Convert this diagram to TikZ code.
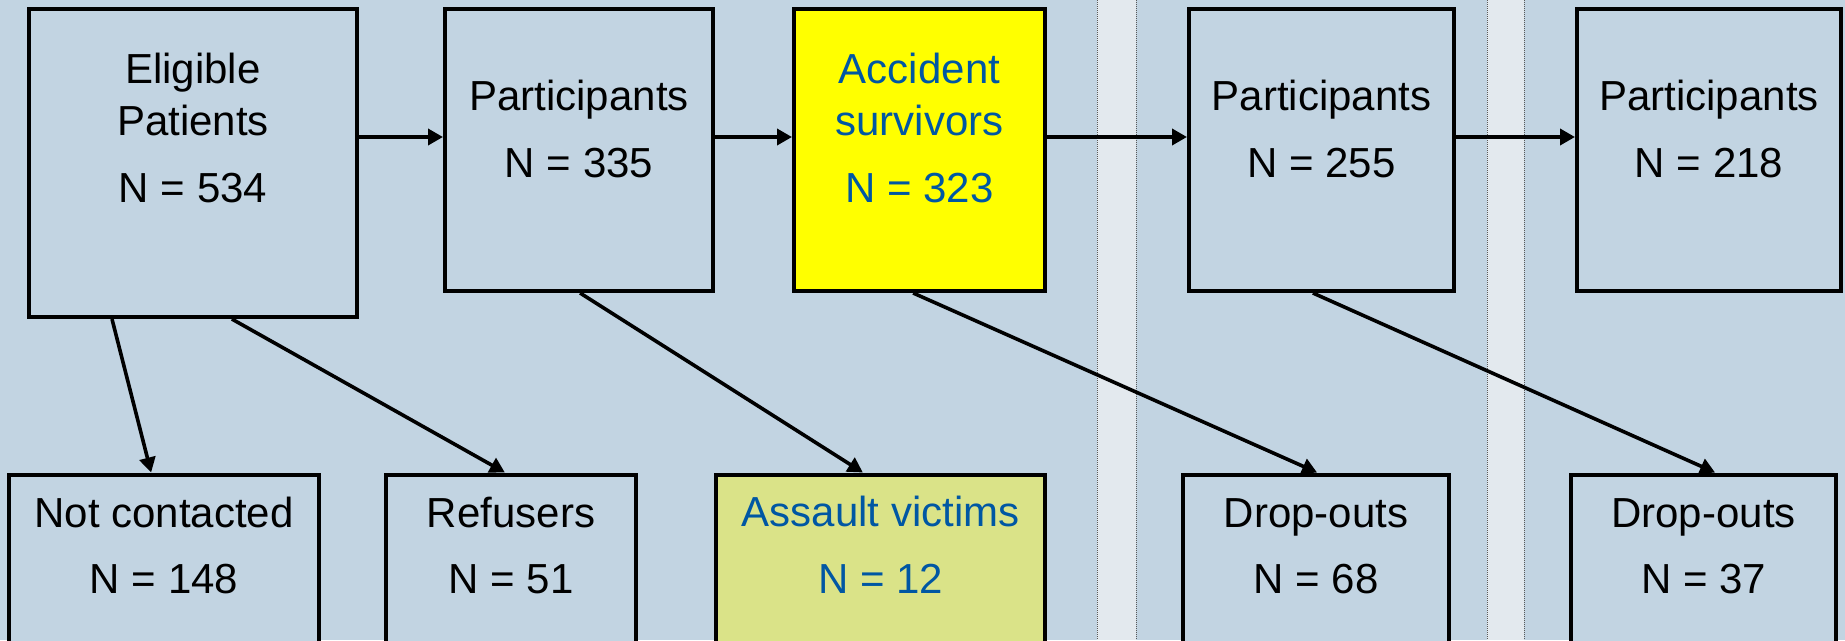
\documentclass[tikz,border=0pt]{standalone}
\usepackage{fontspec}
\setmainfont{Liberation Sans}
\usetikzlibrary{arrows.meta,calc}
\definecolor{bgblue}{HTML}{C2D4E2}
\definecolor{stripecol}{HTML}{E3E9EE}
\definecolor{txtblue}{HTML}{0057A3}
\definecolor{assaultfill}{HTML}{DAE388}
\definecolor{hiyellow}{HTML}{FFFF00}
\tikzset{
  box/.style={draw=black, line width=4pt, inner sep=0pt, fill=bgblue},
  lbl/.style={anchor=base, inner sep=0pt, font=\fontsize{42}{50}\selectfont},
  bluelbl/.style={lbl, text=txtblue},
  arr/.style={draw=black, line width=3.6pt, -{Triangle[length=15pt,width=16pt]}},
  divline/.style={draw=black!65, line width=1pt, dash pattern=on 1pt off 1pt}
}
\begin{document}
\begin{tikzpicture}[x=1pt,y=-1pt]
\useasboundingbox (0,0) rectangle (1845,640);
\clip (0,0) rectangle (1845,640);
\fill[bgblue] (0,0) rectangle (1845,640);
% separating stripes
\fill[stripecol] (1097,0) rectangle (1136,640);
\fill[stripecol] (1487,0) rectangle (1524,640);
\draw[divline] (1097,0) -- (1097,640);
\draw[divline] (1136,0) -- (1136,640);
\draw[divline] (1487,0) -- (1487,640);
\draw[divline] (1524,0) -- (1524,640);
% top boxes
\node[box, minimum width=328pt, minimum height=308pt] (elig) at (193,163) {};
\node[box, minimum width=268pt, minimum height=282pt] (p335) at (579,150) {};
\node[box, fill=hiyellow, minimum width=251pt, minimum height=282pt] (surv) at (919.5,150) {};
\node[box, minimum width=265pt, minimum height=282pt] (p255) at (1321.5,150) {};
\node[box, minimum width=264pt, minimum height=282pt] (p218) at (1709,150) {};
% bottom boxes
\node[box, minimum width=310pt, minimum height=183pt] (nc) at (164,566) {};
\node[box, minimum width=250pt, minimum height=183pt] (ref) at (511,566) {};
\node[box, fill=assaultfill, minimum width=329pt, minimum height=183pt] (asl) at (880.5,566) {};
\node[box, minimum width=266pt, minimum height=183pt] (do68) at (1316,566) {};
\node[box, minimum width=265pt, minimum height=183pt] (do37) at (1703.5,566) {};
% texts
\node[lbl] (t1a) at (193,83) {Eligible};
\node[lbl] (t1b) at (193,135) {Patients};
\node[lbl] (t1c) at (193,202) {N = 534};
\node[lbl] (t2a) at (579,110) {Participants};
\node[lbl] (t2b) at (579,177) {N = 335};
\node[bluelbl] (t3a) at (919.5,83) {Accident};
\node[bluelbl] (t3b) at (919.5,135) {survivors};
\node[bluelbl] (t3c) at (919.5,202) {N = 323};
\node[lbl] (t4a) at (1321.5,110) {Participants};
\node[lbl] (t4b) at (1321.5,177) {N = 255};
\node[lbl] (t5a) at (1709,110) {Participants};
\node[lbl] (t5b) at (1709,177) {N = 218};
\node[lbl] (b1a) at (164,527) {Not contacted};
\node[lbl] (b1b) at (164,593) {N = 148};
\node[lbl] (b2a) at (511,527) {Refusers};
\node[lbl] (b2b) at (511,593) {N = 51};
\node[bluelbl] (b3a) at (880.5,526) {Assault victims};
\node[bluelbl] (b3b) at (880.5,593) {N = 12};
\node[lbl] (b4a) at (1316,527) {Drop-outs};
\node[lbl] (b4b) at (1316,593) {N = 68};
\node[lbl] (b5a) at (1703.5,527) {Drop-outs};
\node[lbl] (b5b) at (1703.5,593) {N = 37};
% horizontal arrows
\draw[arr] ([yshift=26pt]elig.east) -- ([yshift=13pt]p335.west);
\draw[arr] ([yshift=13pt]p335.east) -- ([yshift=13pt]surv.west);
\draw[arr] ([yshift=13pt]surv.east) -- ([yshift=13pt]p255.west);
\draw[arr] ([yshift=13pt]p255.east) -- ([yshift=13pt]p218.west);
% diagonal arrows
\draw[arr] ($(elig.south west)!0.256!(elig.south east)$) -- ($(nc.north west)!0.459!(nc.north east)$);
\draw[arr] ($(elig.south west)!0.617!(elig.south east)$) -- ($(ref.north west)!0.476!(ref.north east)$);
\draw[arr] ($(p335.south west)!0.504!(p335.south east)$) -- ($(asl.north west)!0.447!(asl.north east)$);
\draw[arr] ($(surv.south west)!0.475!(surv.south east)$) -- ($(do68.north west)!0.504!(do68.north east)$);
\draw[arr] ($(p255.south west)!0.468!(p255.south east)$) -- ($(do37.north west)!0.543!(do37.north east)$);
\end{tikzpicture}
\end{document}
